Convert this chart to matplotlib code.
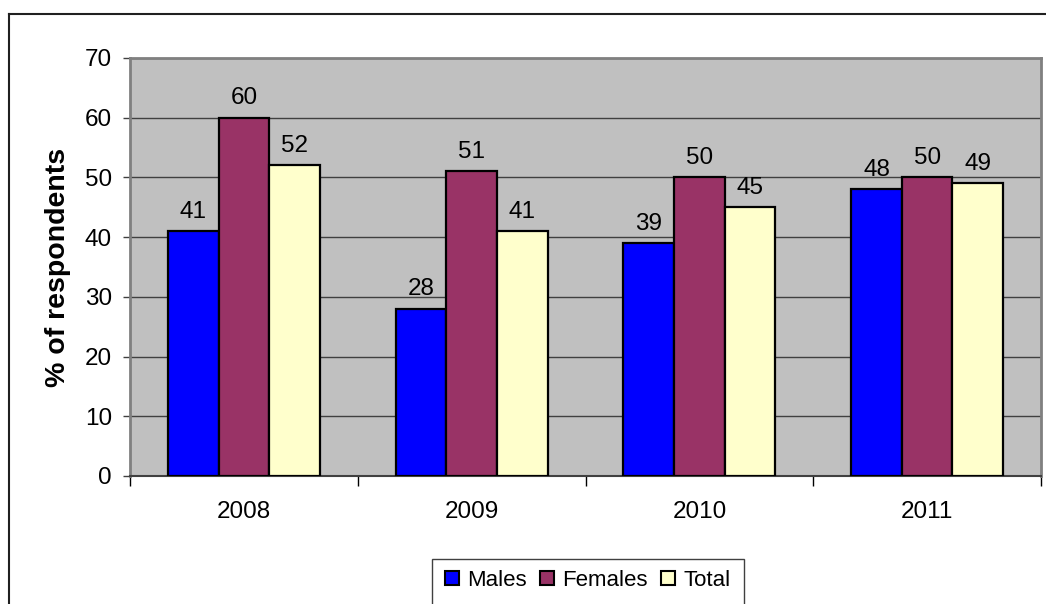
import numpy as np
import matplotlib.pyplot as plt
from matplotlib.lines import Line2D
from matplotlib.patches import Rectangle

plt.rcParams["font.family"] = ["Liberation Sans", "DejaVu Sans"]

years = ["2008", "2009", "2010", "2011"]
series_names = ["Males", "Females", "Total"]
males = [41, 28, 39, 48]
females = [60, 51, 50, 50]
total = [52, 41, 45, 49]
bar_colors = ["#0000FF", "#993366", "#FFFFCC"]

W, H = 1046, 604
fig = plt.figure(figsize=(W / 100, H / 100), dpi=100)

## outer chart frame (only left and top edges are inside the picture)
fig.add_artist(Line2D([8.5 / W, 8.5 / W], [0, 1 - 13.5 / H], color="#202020", lw=1.5))
fig.add_artist(Line2D([8.5 / W, 1], [1 - 13.5 / H, 1 - 13.5 / H], color="#202020", lw=1.5))

left, right, top, bottom = 130, 1041, 58, 476
ax = fig.add_axes([left / W, 1 - bottom / H, (right - left) / W, (bottom - top) / H])
ax.set_facecolor("#C0C0C0")

x = np.arange(len(years))
width = 1 / 4.5
for i, (name, vals) in enumerate(zip(series_names, [males, females, total])):
    bars = ax.bar(x + (i - 1) * width, vals, width, color=bar_colors[i],
                  edgecolor="black", linewidth=1.6, label=name, zorder=3)
    ax.bar_label(bars, padding=6, fontsize=17.5, zorder=4)

ax.set_xlim(-0.5, len(years) - 0.5)
ax.set_ylim(0, 70)
ax.set_yticks(range(0, 71, 10))
ax.yaxis.grid(True, color="#404040", linewidth=1, zorder=1)
ax.tick_params(axis="y", labelsize=17.5, length=5, width=1, pad=8, color="#404040")

ax.set_xticks(x)
ax.set_xticklabels(years)
ax.set_xticks(np.arange(-0.5, len(years)), minor=True)
ax.tick_params(axis="x", which="major", length=0, labelsize=17.5, pad=18)
ax.tick_params(axis="x", which="minor", length=7, width=1, color="black")

for s in ["top", "right", "left"]:
    ax.spines[s].set_color("#808080")
    ax.spines[s].set_linewidth(2)
ax.spines["bottom"].set_color("#404040")
ax.spines["bottom"].set_linewidth(1.5)

ax.set_ylabel("% of respondents", fontsize=20.5, fontweight="bold")
ax.yaxis.set_label_coords(-(left - 71) / (right - left), 0.5)

## legend box running off the bottom edge
fig.add_artist(Rectangle((432 / W, -0.05), (744 - 432) / W, 0.05 + 1 - 559 / H,
                         transform=fig.transFigure, facecolor="white",
                         edgecolor="#404040", linewidth=1))
handles = [Rectangle((0, 0), 1, 1, facecolor=c, edgecolor="black", linewidth=1.5)
           for c in bar_colors]
fig.legend(handles, series_names, loc="center", bbox_to_anchor=(588 / W, 1 - 580 / H),
           ncol=3, frameon=False, fontsize=16, handlelength=0.6, handleheight=0.6,
           handletextpad=0.4, columnspacing=0.6, borderaxespad=0)

fig.savefig("out.png", dpi=100)
